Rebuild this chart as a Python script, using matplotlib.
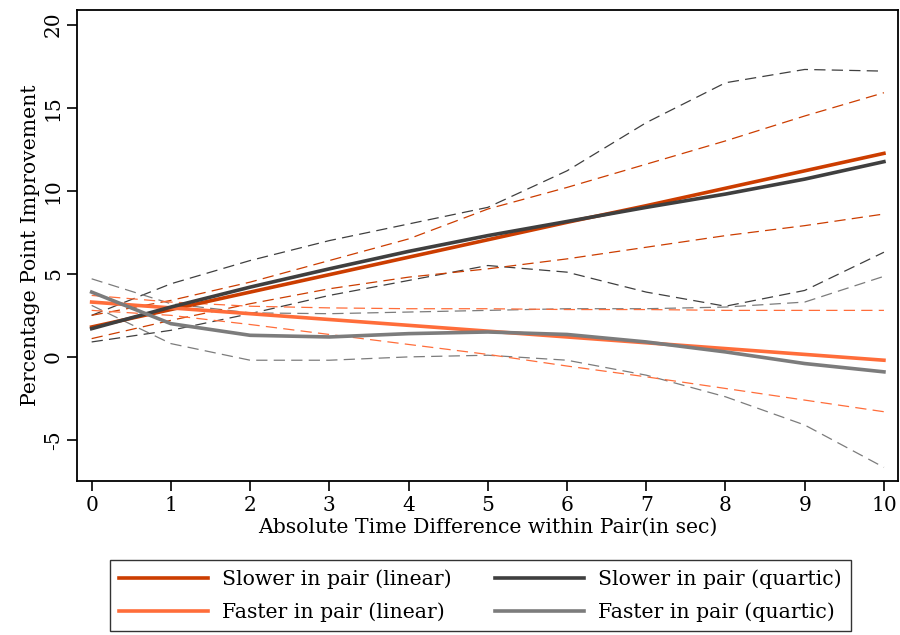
import numpy as np
import matplotlib
matplotlib.use('Agg')
import matplotlib.pyplot as plt

## values
x = [0, 1, 2, 3, 4, 5, 6, 7, 8, 9, 10]

slow_lin = [1.8, 2.85, 3.9, 4.95, 6.0, 7.05, 8.1, 9.1, 10.15, 11.2, 12.25]
slow_lin_hi = [2.5, 3.4, 4.5, 5.8, 7.1, 8.9, 10.2, 11.6, 13.0, 14.5, 15.9]
slow_lin_lo = [1.1, 2.2, 3.2, 4.1, 4.8, 5.3, 5.9, 6.6, 7.3, 7.9, 8.6]

fast_lin = [3.3, 2.95, 2.6, 2.25, 1.9, 1.55, 1.2, 0.85, 0.5, 0.15, -0.2]
fast_lin_hi = [3.7, 3.3, 3.05, 2.95, 2.9, 2.9, 2.85, 2.85, 2.8, 2.8, 2.8]
fast_lin_lo = [2.8, 2.5, 1.95, 1.35, 0.75, 0.15, -0.55, -1.2, -1.9, -2.6, -3.3]

slow_quart = [1.7, 3.0, 4.2, 5.3, 6.35, 7.3, 8.15, 9.0, 9.8, 10.7, 11.75]
slow_quart_hi = [2.5, 4.4, 5.8, 7.0, 8.0, 9.0, 11.2, 14.1, 16.5, 17.3, 17.2]
slow_quart_lo = [0.9, 1.6, 2.6, 3.7, 4.6, 5.5, 5.1, 3.9, 3.05, 4.0, 6.3]

fast_quart = [3.9, 2.0, 1.3, 1.2, 1.4, 1.5, 1.35, 0.9, 0.3, -0.4, -0.9]
fast_quart_hi = [4.7, 3.2, 2.65, 2.6, 2.7, 2.8, 2.9, 2.9, 3.0, 3.3, 4.85]
fast_quart_lo = [3.1, 0.8, -0.2, -0.2, 0.0, 0.1, -0.2, -1.1, -2.4, -4.1, -6.65]

c_slow_lin = '#cc3d00'
c_fast_lin = '#ff6d3a'
c_slow_q = '#3f3f3f'
c_fast_q = '#7c7c7c'

plt.rcParams['font.family'] = ['DejaVu Serif']
plt.rcParams['axes.unicode_minus'] = False

fig = plt.figure(figsize=(9, 6.35), dpi=100)
ax = fig.add_axes([0.086, 0.2425, 0.912, 0.741])

dash = dict(linewidth=0.9, linestyle=(0, (9, 5)))
ax.plot(x, slow_quart_hi, color=c_slow_q, **dash)
ax.plot(x, slow_quart_lo, color=c_slow_q, **dash)
ax.plot(x, fast_quart_hi, color=c_fast_q, **dash)
ax.plot(x, fast_quart_lo, color=c_fast_q, **dash)
ax.plot(x, slow_lin_hi, color=c_slow_lin, **dash)
ax.plot(x, slow_lin_lo, color=c_slow_lin, **dash)
ax.plot(x, fast_lin_hi, color=c_fast_lin, **dash)
ax.plot(x, fast_lin_lo, color=c_fast_lin, **dash)

l1, = ax.plot(x, slow_lin, color=c_slow_lin, linewidth=2.6, label='Slower in pair (linear)')
l2, = ax.plot(x, fast_lin, color=c_fast_lin, linewidth=2.6, label='Faster in pair (linear)')
l3, = ax.plot(x, slow_quart, color=c_slow_q, linewidth=2.6, label='Slower in pair (quartic)')
l4, = ax.plot(x, fast_quart, color=c_fast_q, linewidth=2.6, label='Faster in pair (quartic)')

ax.set_xlim(-0.18, 10.18)
ax.set_ylim(-7.47, 20.85)
ax.set_xticks(range(0, 11))
ax.set_yticks([-5, 0, 5, 10, 15, 20])
ax.tick_params(axis='both', direction='out', length=7, width=1.2, labelsize=14.5)
ax.tick_params(axis='x', pad=4)
for lab in ax.get_yticklabels():
    lab.set_rotation(90)
    lab.set_va('center')
for s in ax.spines.values():
    s.set_linewidth(1.3)

ax.set_xlabel('Absolute Time Difference within Pair(in sec)', fontsize=14.7, labelpad=2)
ax.set_ylabel('Percentage Point Improvement', fontsize=14.7, labelpad=3)

leg = fig.legend(handles=[l1, l2, l3, l4], loc='upper left', ncol=2,
                 bbox_to_anchor=(110 / 900, 1 - 560 / 635),
                 borderaxespad=0, fontsize=14.7, frameon=True, fancybox=False,
                 handlelength=4.35, handletextpad=0.7, borderpad=0.45,
                 labelspacing=0.65, columnspacing=2.1)
leg.get_frame().set_edgecolor('black')
leg.get_frame().set_linewidth(1.0)

plt.savefig('out.png', dpi=100)
